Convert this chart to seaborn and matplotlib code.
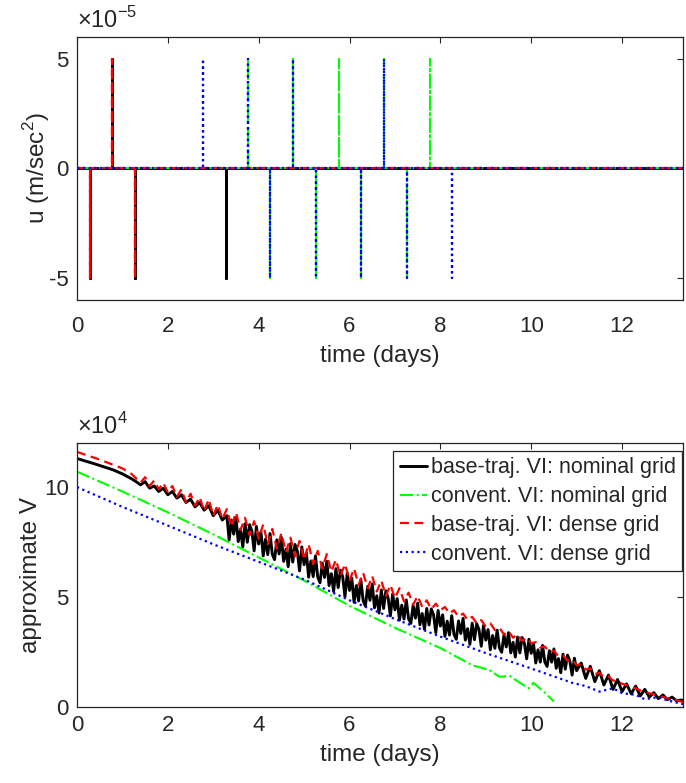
import numpy as np
import matplotlib
matplotlib.use("Agg")
import matplotlib.pyplot as plt
import matplotlib.ticker as mticker
import seaborn as sns

# ---- top panel: control pulses (time in days, amplitude in 1e-5 m/sec^2)
base_nom_t = [0.28, 0.78, 1.27, 3.27]
base_nom_u = [-5, 5, -5, -5]
conv_nom_t = [3.77, 4.26, 4.76, 5.26, 5.77, 6.26, 6.77, 7.26, 7.77]
conv_nom_u = [5, -5, 5, -5, 5, -5, 5, -5, 5]
base_den_t = [0.28, 0.78, 1.27]
base_den_u = [-5, 5, -5]
conv_den_t = [2.77, 3.77, 4.26, 4.76, 5.26, 6.26, 6.77, 7.26, 8.25]
conv_den_u = [5, 5, -5, 5, -5, -5, 5, -5, -5]
t_end = 13.4

# ---- bottom panel: approximate V (units of 1e4)
black_t = ([0.0, 0.4, 0.8, 1.0, 1.2]
           + list(np.round(np.linspace(1.3, 3.3, 21), 2))
           + list(np.round(np.linspace(3.35, 11.0, 154), 2))
           + list(np.round(np.linspace(11.1, 13.4, 24), 2)))
black_v = [11.30, 11.05, 10.78, 10.60, 10.38,
           # 1.3 - 3.3
           10.25, 10.10, 10.25, 9.95, 10.05, 9.80, 9.95, 9.65, 9.80, 9.50,
           9.65, 9.30, 9.45, 9.10, 9.30, 8.95, 9.15, 8.70, 8.95, 8.50, 8.70,
           # 3.35 - 11.0
           7.60, 8.50, 7.86, 8.61, 7.52, 8.07, 7.28, 8.33, 7.49, 8.29,
           8.00, 7.10, 8.21, 7.41, 7.97, 6.87, 7.63, 6.93, 7.89, 6.94,
           6.70, 7.60, 6.96, 7.71, 6.62, 7.17, 6.38, 7.43, 6.59, 7.39,
           7.10, 6.19, 7.28, 6.47, 7.01, 5.90, 6.64, 5.93, 6.87, 5.91,
           5.65, 6.54, 5.89, 6.63, 5.52, 6.06, 5.25, 6.29, 5.43, 6.22,
           5.92, 5.01, 6.10, 5.30, 5.86, 4.76, 5.52, 4.82, 5.78, 4.83,
           4.59, 5.49, 4.85, 5.60, 4.51, 5.06, 4.27, 5.32, 4.48, 5.28,
           4.96, 4.14, 5.14, 4.42, 4.93, 3.95, 4.63, 4.00, 4.87, 4.01,
           3.80, 4.62, 4.04, 4.72, 3.74, 4.25, 3.53, 4.48, 3.73, 4.46,
           4.19, 3.38, 4.39, 3.68, 4.19, 3.21, 3.90, 3.27, 4.15, 3.30,
           3.08, 3.91, 3.34, 4.03, 3.04, 3.56, 2.85, 3.81, 3.06, 3.79,
           3.52, 2.76, 3.71, 3.04, 3.52, 2.60, 3.25, 2.67, 3.49, 2.69,
           2.49, 3.27, 2.73, 3.38, 2.46, 2.94, 2.27, 3.18, 2.46, 3.16,
           2.90, 2.19, 3.08, 2.44, 2.88, 2.00, 2.60, 2.04, 2.80, 2.04,
           1.84, 2.56, 2.04, 2.64, 1.76, 2.20, 1.56, 2.40, 1.72, 2.36,
           2.09, 1.45, 2.22, 1.65,
           # 11.1 - 13.4
           2.00, 1.30, 1.85, 1.15, 1.65, 1.00, 1.45, 0.80, 1.25, 0.70,
           1.05, 0.60, 0.95, 0.50, 0.80, 0.45, 0.65, 0.38, 0.55, 0.33,
           0.45, 0.28, 0.32, 0.25]
red_t = [0.0, 0.5, 1.0, 1.2] + list(np.round(np.linspace(1.3, 13.4, 122), 2))
red_v = [11.60, 11.25, 10.85, 10.60,
         10.40, 10.20, 10.45, 10.05, 10.30, 9.90, 10.20, 9.75, 10.05, 9.55,
         9.90, 9.30, 9.70, 9.15, 9.55, 8.90, 9.45, 8.70, 9.20, 8.55,
         9.00, 8.20, 8.85, 8.05, 8.60, 7.80, 8.45, 7.65, 8.30, 7.40,
         8.10, 7.20, 7.90, 7.05, 7.70, 6.85, 7.55, 6.70, 7.40, 6.50,
         7.10, 6.30, 6.95, 6.15, 6.70, 5.95, 6.50, 5.75, 6.30, 5.55,
         6.10, 5.40, 5.95, 5.25, 5.75, 5.05, 5.55, 4.95, 5.40, 4.80,
         5.20, 4.65, 5.05, 4.55, 4.85, 4.45, 4.70, 4.40, 4.55, 4.25,
         4.40, 4.10, 4.25, 3.95, 4.10, 3.80, 3.95, 3.65, 3.80, 3.50,
         3.60, 3.30, 3.45, 3.15, 3.30, 3.00, 3.15, 2.90, 2.95, 2.70,
         2.75, 2.50, 2.55, 2.30, 2.35, 2.10, 2.15, 1.90, 1.95, 1.70,
         1.75, 1.50, 1.55, 1.35, 1.40, 1.20, 1.20, 1.05, 1.00, 0.90,
         0.85, 0.75, 0.70, 0.62, 0.58, 0.50, 0.45, 0.40, 0.35, 0.30,
         0.25, 0.20]
green_t = [0.0, 1.0, 2.0, 3.0, 4.0, 5.0, 6.0, 7.0, 8.0, 8.7, 9.08, 9.3, 9.52,
           9.75, 9.95, 10.05, 10.3, 10.5]
green_v = [10.70, 9.80, 8.85, 7.85, 6.80, 5.75, 4.60, 3.60, 2.68, 1.90, 1.68,
           1.37, 1.42, 1.10, 0.85, 1.10, 0.65, 0.25]
blue_t = [0.0, 1.0, 2.0, 3.0, 4.0, 5.0, 6.0, 7.0, 8.0, 9.0, 10.0, 10.9, 11.2,
          11.5, 11.8, 12.0, 12.3, 12.5, 12.8, 13.0, 13.4]
blue_v = [10.00, 9.10, 8.25, 7.40, 6.60, 5.80, 4.85, 4.00, 3.20, 2.45, 1.75,
          1.10, 0.95, 0.70, 0.85, 0.63, 0.55, 0.35, 0.45, 0.30, 0.10]

labels = ["base-traj. VI: nominal grid", "convent. VI: nominal grid",
          "base-traj. VI: dense grid", "convent. VI: dense grid"]
colors = ["black", "#00ff00", "red", "blue"]
styles = [dict(linestyle="-", lw=2.1),
          dict(linestyle="-.", lw=1.5),
          dict(linestyle=(0, (4, 2.5)), lw=1.6),
          dict(linestyle=(0, (1, 1.6)), lw=1.6)]


def pulse_path(ts, us):
    xs, ys = [0.0], [0.0]
    for t, u in zip(ts, us):
        xs += [t, t, t]
        ys += [0.0, u * 1e-5, 0.0]
    xs.append(t_end)
    ys.append(0.0)
    return xs, ys


sns.set_style("white")
plt.rcParams["font.family"] = ["Liberation Sans", "DejaVu Sans"]
plt.rcParams["mathtext.fontset"] = "custom"
plt.rcParams["mathtext.rm"] = "Liberation Sans"
plt.rcParams["axes.unicode_minus"] = False
plt.rcParams["axes.edgecolor"] = "#262626"
plt.rcParams["xtick.color"] = "#262626"
plt.rcParams["ytick.color"] = "#262626"

fig = plt.figure(figsize=(6.86, 7.83), dpi=100)
ax1 = fig.add_axes([0.1122, 0.6169, 0.884, 0.336])
ax2 = fig.add_axes([0.1122, 0.0971, 0.884, 0.337])

pulses = [(base_nom_t, base_nom_u), (conv_nom_t, conv_nom_u),
          (base_den_t, base_den_u), (conv_den_t, conv_den_u)]
for (ts, us), c, st in zip(pulses, colors, styles):
    xs, ys = pulse_path(ts, us)
    sns.lineplot(x=xs, y=ys, sort=False, estimator=None, ax=ax1, color=c, **st)

curves = [(black_t, black_v), (green_t, green_v), (red_t, red_v), (blue_t, blue_v)]
for (ts, vs), c, st, lab in zip(curves, colors, styles, labels):
    sns.lineplot(x=ts, y=np.array(vs) * 1e4, sort=False, estimator=None,
                 ax=ax2, color=c, label=lab, **st)

for ax, exp, sign in ((ax1, -5, "-"), (ax2, 4, "")):
    ax.set_xlim(0, 13.35)
    ax.set_xticks([0, 2, 4, 6, 8, 10, 12])
    ax.tick_params(direction="in", top=True, right=True, length=4,
                   width=0.8, labelsize=16, pad=6)
    for s in ax.spines.values():
        s.set_linewidth(0.9)
    ax.yaxis.set_major_formatter(
        mticker.FuncFormatter(lambda v, _, e=exp: f"{v / 10 ** e:g}"))
    ax.text(0.0, 1.015, r"$\times$10$^{\mathregular{%s%d}}$" % (sign, abs(exp)),
            transform=ax.transAxes, fontsize=17, color="#262626",
            ha="left", va="bottom")

ax1.tick_params(axis="x", pad=11.5)
ax1.set_ylim(-6e-5, 6e-5)
ax1.set_yticks([-5e-5, 0, 5e-5])
ax1.set_ylabel("u (m/sec$^2$)", fontsize=17.5, labelpad=-2)
ax1.set_xlabel("time (days)", fontsize=17.5, labelpad=6)

ax2.set_ylim(0, 1.2e5)
ax2.set_yticks([0, 5e4, 10e4])
ax2.set_ylabel("approximate V", fontsize=17.5, labelpad=1)
ax2.set_xlabel("time (days)", fontsize=17.5, labelpad=5.5)

leg = ax2.legend(loc="upper right", bbox_to_anchor=(0.998, 0.97),
                 fontsize=15.5, handlelength=1.3,
                 handletextpad=0.15, labelspacing=0.36, borderpad=0.3,
                 borderaxespad=0.0, fancybox=False, framealpha=1)
leg.get_frame().set_edgecolor("#262626")
leg.get_frame().set_linewidth(0.9)

fig.savefig("out.png", dpi=100)
